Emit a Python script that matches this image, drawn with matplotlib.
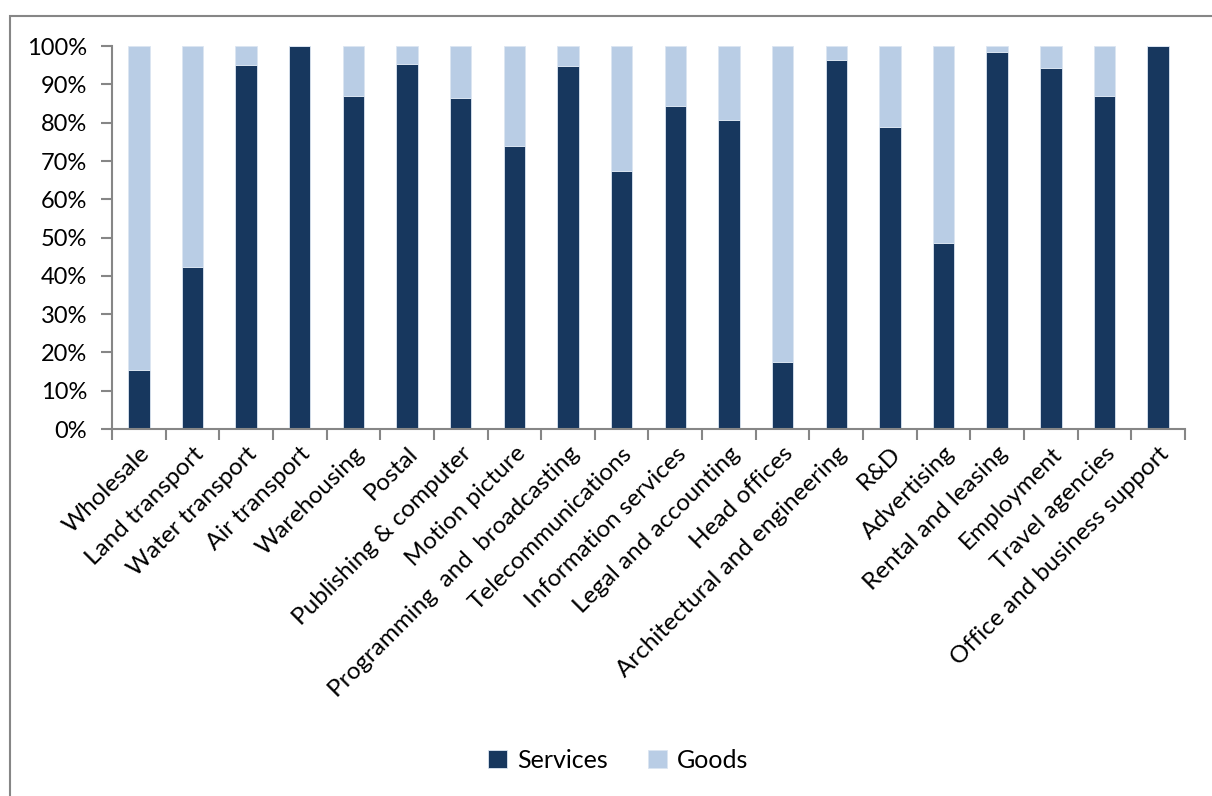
import numpy as np
import matplotlib
matplotlib.use("Agg")
import matplotlib.pyplot as plt
from matplotlib.patches import Rectangle
from matplotlib.ticker import FuncFormatter, FixedLocator

plt.rcParams['font.family'] = ['Lato', 'DejaVu Sans']

categories = ["Wholesale", "Land transport", "Water transport", "Air transport",
              "Warehousing", "Postal", "Publishing & computer", "Motion picture",
              "Programming  and  broadcasting", "Telecommunications",
              "Information services", "Legal and accounting", "Head offices",
              "Architectural and engineering", "R&D", "Advertising",
              "Rental and leasing", "Employment", "Travel agencies",
              "Office and business support"]
services = [15.4, 42.2, 95.1, 100.0, 87.0, 95.3, 86.4, 73.9, 94.7, 67.5,
            84.3, 80.6, 17.5, 96.4, 78.9, 48.5, 98.4, 94.4, 87.0, 100.0]
goods = [100 - s for s in services]

c_services = "#17375E"
c_goods = "#B9CDE5"
grey = "#868686"


def main():
    fig = plt.figure(figsize=(12.12, 7.96), dpi=100)
    ax = fig.add_axes([0.0924, 0.461, 0.8853, 0.481])

    x = np.arange(len(categories))
    ax.bar(x, services, width=0.4, color=c_services, edgecolor="#DCE6F2",
           linewidth=0.6, label="Services")
    ax.bar(x, goods, bottom=services, width=0.4, color=c_goods,
           edgecolor="#DCE6F2", linewidth=0.6, label="Goods")

    ax.set_xlim(-0.5, len(categories) - 0.5)
    ax.set_ylim(0, 100)
    ax.set_yticks(np.arange(0, 101, 10))
    ax.yaxis.set_major_formatter(FuncFormatter(lambda v, p: f"{v:.0f}%"))

    # category labels centred on bars, ticks on the boundaries
    ax.set_xticks(x)
    ax.set_xticklabels(categories, rotation=45, ha="right",
                       rotation_mode="anchor", fontsize=17.5)
    ax.xaxis.set_minor_locator(FixedLocator(np.arange(-0.5, len(categories), 1)))
    ax.tick_params(axis="x", which="major", length=0, pad=10)
    ax.tick_params(axis="x", which="minor", length=8, width=1.5,
                   color=grey, direction="out")
    ax.tick_params(axis="y", length=8, width=1.5, color=grey,
                   labelsize=17, pad=10)

    for s in ["top", "right"]:
        ax.spines[s].set_visible(False)
    for s in ["left", "bottom"]:
        ax.spines[s].set_color(grey)
        ax.spines[s].set_linewidth(1.5)

    fig.legend(loc="center", bbox_to_anchor=(0.51, 0.045), ncol=2,
               frameon=False, fontsize=18, handlelength=0.75, handleheight=0.75,
               columnspacing=1.6, handletextpad=0.4)

    fig.patches.append(Rectangle((10 / 1212, -0.1), 1.2, 1.1 - 16 / 796,
                                 transform=fig.transFigure, fill=False,
                                 edgecolor=grey, linewidth=1.5, clip_on=False))

    fig.savefig("out.png", dpi=100)


if __name__ == '__main__':
    main()
